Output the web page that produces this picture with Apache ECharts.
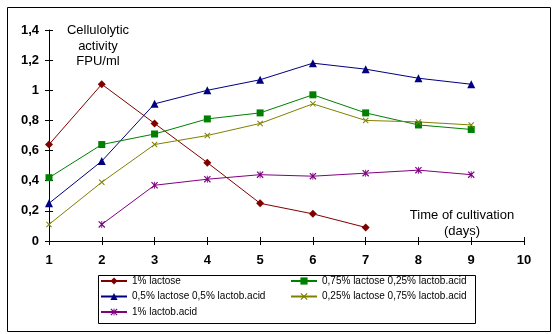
<!DOCTYPE html>
<html><head><meta charset="utf-8">
<script src="https://cdn.jsdelivr.net/npm/echarts@6/dist/echarts.min.js"></script>
<style>html,body{margin:0;padding:0;background:#fff}#c{width:552px;height:334px}</style>
</head><body><div id="c"></div>
<script>
const days = [1,2,3,4,5,6,7,8,9];
const seriesNames = ['1% lactose','0,5% lactose 0,5% lactob.acid','1% lactob.acid','0,75% lactose 0,25% lactob.acid','0,25% lactose 0,75% lactob.acid'];
const lactose1 = [0.64,1.04,0.78,0.52,0.25,0.18,0.09,null,null];
const lac05acid05 = [0.25,0.53,0.91,1.00,1.07,1.18,1.14,1.08,1.04];
const acid1 = [null,0.11,0.37,0.41,0.44,0.43,0.45,0.47,0.44];
const lac075acid025 = [0.42,0.64,0.71,0.81,0.85,0.97,0.85,0.77,0.74];
const lac025acid075 = [0.11,0.39,0.64,0.70,0.78,0.91,0.80,0.79,0.77];
const yTicks = ['0','0,2','0,4','0,6','0,8','1','1,2','1,4'];

const X = 'path://M0,1.2 L1.2,0 L10,8.8 L8.8,10 Z M8.8,0 L10,1.2 L1.2,10 L0,8.8 Z';
const STAR = 'path://M0,1.2 L1.2,0 L10,8.8 L8.8,10 Z M8.8,0 L10,1.2 L1.2,10 L0,8.8 Z M4.4,0 L5.6,0 L5.6,10 L4.4,10 Z';

function pts(arr){ return days.map((d,i)=>arr[i]==null?null:[d,arr[i]]).filter(p=>p); }
function mk(name, arr, color, symbol, size){
  return {name, type:'line', data:pts(arr), symbol, symbolSize:size, showSymbol:true,
    lineStyle:{color, width:1}, itemStyle:{color, borderWidth:0}, emphasis:{disabled:true}, animation:false};
}
const chart = echarts.init(document.getElementById('c'), null, {renderer:'canvas'});
const font = 'Liberation Sans, Arial, sans-serif';
const legendText = {fontSize:10, color:'#000', fontFamily:font, lineHeight:13};
chart.setOption({
  backgroundColor:'#fff',
  animation:false,
  textStyle:{fontFamily:font},
  grid:{left:49, right:28, top:30, bottom:93},
  xAxis:[{type:'value', min:1, max:10, interval:1,
    axisLine:{lineStyle:{color:'#000', width:1}},
    axisTick:{show:true, length:4, lineStyle:{color:'#000'}},
    axisLabel:{color:'#000', fontWeight:'bold', fontSize:13, margin:13, fontFamily:font},
    splitLine:{show:false}},
   {type:'value', min:1, max:10, interval:1, position:'bottom',
    axisLine:{show:false}, axisTick:{show:true, inside:true, length:4, lineStyle:{color:'#000'}},
    axisLabel:{show:false}, splitLine:{show:false}}],
  yAxis:[{type:'value', min:0, max:1.4, interval:0.2,
    axisLine:{show:true, lineStyle:{color:'#000', width:1}},
    axisTick:{show:true, length:4, lineStyle:{color:'#000'}},
    axisLabel:{color:'#000', fontWeight:'bold', fontSize:13, margin:10, fontFamily:font,
      formatter:(v,i)=>yTicks[i]},
    splitLine:{show:false}},
   {type:'value', min:0, max:1.4, interval:0.2, position:'left',
    axisLine:{show:false}, axisTick:{show:true, inside:true, length:4, lineStyle:{color:'#000'}},
    axisLabel:{show:false}, splitLine:{show:false}}],
  legend:[
    {data:[seriesNames[0],seriesNames[1],seriesNames[2]], orient:'vertical', left:100, top:274.5, padding:0,
     itemWidth:26, itemHeight:9, itemGap:2.5, textStyle:legendText},
    {data:[seriesNames[3],seriesNames[4]], orient:'vertical', left:290, top:274.5, padding:0,
     itemWidth:26, itemHeight:9, itemGap:2.5, textStyle:legendText}
  ],
  graphic:[
    {type:'rect', left:5, top:5, shape:{width:543, height:324}, style:{fill:null, stroke:'#000', lineWidth:1}, silent:true},
    {type:'rect', left:96, top:273, shape:{width:377, height:48}, style:{fill:null, stroke:'#000', lineWidth:1}, silent:true},
    {type:'text', x:98, y:46, style:{text:'Cellulolytic\nactivity\nFPU/ml', textAlign:'center', textVerticalAlign:'middle', font:'13px '+font, lineHeight:15.5, fill:'#000'}},
    {type:'text', x:462, y:223, style:{text:'Time of cultivation\n(days)', textAlign:'center', textVerticalAlign:'middle', font:'13px '+font, lineHeight:16, fill:'#000'}}
  ],
  series:[
    mk(seriesNames[0], lactose1, '#800000', 'diamond', 8),
    mk(seriesNames[1], lac05acid05, '#000080', 'triangle', 8),
    mk(seriesNames[2], acid1, '#800080', STAR, 7),
    mk(seriesNames[3], lac075acid025, '#008000', 'rect', 7),
    mk(seriesNames[4], lac025acid075, '#808000', X, 6)
  ]
});
</script></body></html>
